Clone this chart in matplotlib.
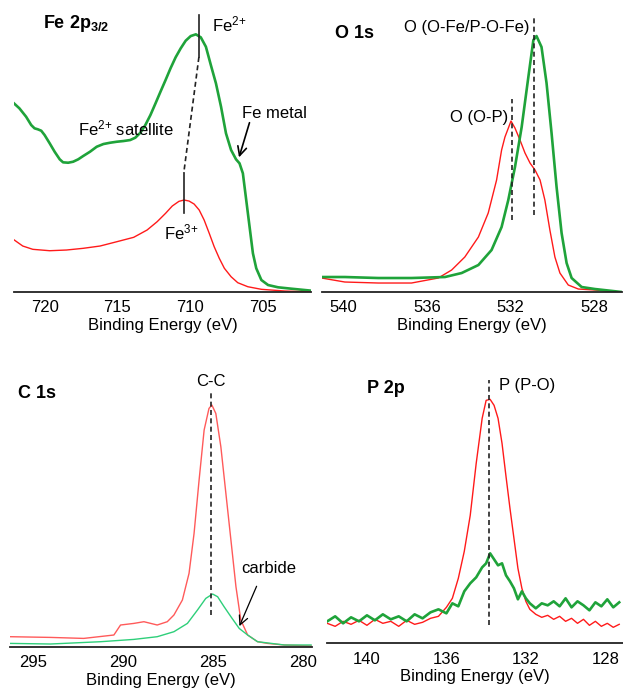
import matplotlib
matplotlib.use('Agg')
import matplotlib.pyplot as plt

plt.rcParams['font.family'] = ['Liberation Sans', 'DejaVu Sans']
plt.rcParams['mathtext.fontset'] = 'custom'
plt.rcParams['mathtext.rm'] = 'Liberation Sans'
plt.rcParams['mathtext.it'] = 'Liberation Sans:italic'
plt.rcParams['mathtext.bf'] = 'Liberation Sans:bold'

GREEN = '#1fa33a'
RED = '#ff1a1a'
LIGHT_GREEN = '#2ecf7a'
LIGHT_RED = '#ff5a5a'
FS = 12

# Fe 2p3/2
FE_TICKS = [720, 715, 710, 705]
FE_BE_GREEN = [722.15, 721.73, 721.27, 720.92, 720.69, 720.46, 720.23, 720.0, 719.65, 719.31,
               718.96, 718.73, 718.38, 718.04, 717.69, 717.35, 716.88, 716.42, 715.96, 715.50,
               715.04, 714.58, 714.12, 713.77, 713.42, 713.08, 712.73, 712.38, 712.04, 711.69,
               711.35, 711.0, 710.65, 710.31, 709.96, 709.61, 709.27, 708.92, 708.58, 708.23,
               707.88, 707.54, 707.19, 706.85, 706.61, 706.38, 706.15, 705.92, 705.69, 705.46,
               705.11, 704.65, 703.96, 703.04, 701.65]
FE_GREEN = [189.3, 183.7, 175.3, 167, 163.7, 162.7, 161.3, 157, 148.7, 140.3,
            132.7, 129.7, 129.3, 130.3, 132.7, 136, 140.3, 145.3, 148, 149.3,
            150.3, 151, 152, 154.3, 159.3, 167, 177, 188.7, 200.3, 212,
            223.7, 234.7, 243.7, 251.3, 256, 257.7, 254.7, 245.3, 227, 208.7,
            185.3, 158.7, 142, 132.7, 128.7, 118.7, 92, 65.3, 38.7, 23.7,
            12, 7, 4.7, 3.3, 1.3]
FE_BE_RED = [722.15, 721.50, 720.81, 719.65, 718.5, 717.35, 716.19, 715.04, 713.88, 712.96,
             712.27, 711.69, 711.23, 710.77, 710.42, 710.08, 709.73, 709.38, 709.04, 708.69,
             708.35, 708.0, 707.65, 707.19, 706.73, 706.04, 705.11, 703.5, 701.65]
FE_RED = [52.7, 46, 42.7, 41.3, 42, 43.7, 46, 50.3, 54.7, 62,
          70.3, 78.7, 86, 90.7, 92, 91, 88, 82, 72, 58.7,
          45.3, 33.7, 23.7, 15.3, 9.3, 5.3, 2.7, 1, 0]

# O 1s
O_TICKS = [540, 536, 532, 528]
O_BE_GREEN = [541.05, 539.94, 538.34, 536.75, 535.15, 534.35, 533.55, 532.92, 532.44, 532.12,
              531.8, 531.48, 531.16, 530.92, 530.77, 530.53, 530.29, 530.05, 529.81, 529.57,
              529.33, 529.09, 528.61, 527.98, 526.69]
O_GREEN = [15, 15, 14, 14, 15, 19, 27, 42, 65, 92,
           125, 165, 215, 252, 256, 245, 209, 159, 105, 59,
           29, 14, 5, 3, 0]
O_BE_RED = [541.05, 539.94, 538.34, 536.75, 535.47, 534.83, 534.2, 533.55, 533.08, 532.68,
            532.44, 532.28, 531.99, 531.8, 531.56, 531.32, 531.08, 530.84, 530.6, 530.37,
            530.13, 529.89, 529.65, 529.25, 528.77, 527.98, 526.69]
O_RED = [14, 10, 9, 9, 14, 22, 35, 55, 79, 112,
         142, 155, 171, 164, 152, 139, 129, 122, 112, 92,
         62, 35, 19, 7, 3, 2, 0]

# C 1s
C_TICKS = [295, 290, 285, 280]
C_BE_RED = [296.28, 294.05, 292.2, 290.52, 290.15, 289.41, 288.85, 288.11, 287.55, 287.18,
            286.71, 286.34, 286.06, 285.78, 285.5, 285.23, 285.07, 284.85, 284.57, 284.29,
            284.01, 283.73, 283.46, 283.08, 282.53, 281.97, 281.04, 279.55]
C_RED = [10, 9.3, 8.3, 11.7, 21.7, 23.3, 25, 21.7, 25, 31.7,
         46.7, 73.3, 113.3, 166.7, 216.7, 238.3, 241.7, 233.3, 200, 153.3,
         106.7, 60, 26.7, 11.7, 5, 3.3, 1.7, 0.7]
C_BE_GREEN = [296.28, 294.05, 291.26, 289.41, 288.11, 287.18, 286.43, 285.87, 285.41, 285.03,
              284.75, 284.39, 284.01, 283.55, 283.08, 282.53, 281.04, 279.55]
C_GREEN = [3.3, 2.7, 5, 7.3, 10, 15, 23.3, 36.7, 48.3, 52.7,
           50, 40, 30, 18.3, 11.7, 5, 1.7, 1.7]

# P 2p
P_TICKS = [140, 136, 132, 128]
P_BE = [142.0, 141.6, 141.2, 140.8, 140.4, 140.0, 139.6, 139.2, 138.8, 138.4,
        138.0, 137.6, 137.2, 136.8, 136.4, 136.0, 135.7, 135.4, 135.1, 134.8,
        134.5, 134.2, 134.0, 133.8, 133.6, 133.4, 133.2, 133.0, 132.8, 132.6,
        132.4, 132.2, 132.0, 131.8, 131.5, 131.2, 130.9, 130.6, 130.3, 130.0,
        129.7, 129.4, 129.1, 128.8, 128.5, 128.2, 127.9, 127.6, 127.3]
P_RED = [20, 17, 22, 19, 23, 18, 24, 20, 22, 17,
         23, 19, 21, 25, 27, 36, 45, 65, 92, 128,
         180, 225, 243, 244, 238, 225, 200, 167, 135, 105,
         75, 55, 42, 34, 29, 26, 28, 24, 27, 22,
         25, 20, 24, 18, 22, 17, 20, 16, 19]
P_GREEN = [22, 27, 20, 26, 22, 28, 23, 29, 24, 27,
           22, 29, 25, 31, 34, 30, 40, 37, 52, 60,
           66, 76, 80, 90, 84, 78, 80, 68, 62, 55,
           44, 52, 45, 40, 35, 40, 38, 42, 37, 45,
           36, 42, 38, 33, 41, 37, 44, 36, 41]


def style_axis(ax, xlim, ticks):
    ax.set_xlim(*xlim)
    ax.set_ylim(0, 287)
    ax.set_xticks(ticks)
    ax.set_yticks([])
    for side in ('top', 'right', 'left'):
        ax.spines[side].set_visible(False)
    ax.spines['bottom'].set_linewidth(1.3)
    ax.spines['bottom'].set_color('#222222')
    ax.tick_params(axis='x', length=0, pad=6, labelsize=FS)
    ax.set_xlabel('Binding Energy (eV)', fontsize=FS, labelpad=2)
    ax.patch.set_alpha(0)


def vline(ax, x, y0, y1, dashed=True):
    ax.plot([x, x], [y0, y1], color='#222222', lw=1.2,
            ls=(0, (3, 2)) if dashed else '-')


fig = plt.figure(figsize=(6.23, 6.91), dpi=100)

# Fe panel
ax = fig.add_axes([0.0225, 0.5774, 0.4767, 0.4153])
ax.plot(FE_BE_GREEN, FE_GREEN, color=GREEN, lw=1.9)
ax.plot(FE_BE_RED, FE_RED, color=RED, lw=1.0)
style_axis(ax, (722.1, 701.7), FE_TICKS)
vline(ax, 709.40, 235, 277, dashed=False)
ax.plot([709.40, 710.44], [235, 119], color='#222222', lw=1.2, ls=(0, (3, 2)))
vline(ax, 710.44, 79, 119, dashed=False)
ax.text(720.14, 269, r'$\mathbf{Fe\ 2p_{3/2}}$', fontsize=13, va='center')
ax.text(708.5, 268, 'Fe$^{2{+}}$', fontsize=FS, va='center')
ax.text(717.7, 164, 'Fe$^{2{+}}$ satellite', fontsize=FS, va='center')
ax.text(706.43, 179, 'Fe metal', fontsize=FS, va='center')
ax.text(711.83, 60, 'Fe$^{3{+}}$', fontsize=FS, va='center')
ax.annotate('', xy=(706.70, 132), xytext=(705.87, 172),
            arrowprops=dict(arrowstyle='->', lw=1.2, color='black', mutation_scale=16))

# O panel
ax = fig.add_axes([0.5169, 0.5774, 0.4815, 0.4153])
ax.plot(O_BE_RED, O_RED, color=RED, lw=1.0)
ax.plot(O_BE_GREEN, O_GREEN, color=GREEN, lw=1.9)
style_axis(ax, (541.03, 526.68), O_TICKS)
vline(ax, 530.88, 77, 277)
vline(ax, 531.96, 72, 193)
ax.text(540.41, 259, 'O 1s', fontsize=13, fontweight='bold', va='center')
ax.text(531.11, 265, 'O (O-Fe/P-O-Fe)', fontsize=FS, va='center', ha='right')
ax.text(532.11, 175, 'O (O-P)', fontsize=FS, va='center', ha='right')

# C panel
ax = fig.add_axes([0.016, 0.0641, 0.4848, 0.4153])
ax.plot(C_BE_RED, C_RED, color=LIGHT_RED, lw=1.0)
ax.plot(C_BE_GREEN, C_GREEN, color=LIGHT_GREEN, lw=1.0)
style_axis(ax, (296.3, 279.5), C_TICKS)
vline(ax, 285.12, 32, 255)
ax.text(295.84, 253, 'C 1s', fontsize=13, fontweight='bold', va='center')
ax.text(285.12, 265, 'C-C', fontsize=FS, va='center', ha='center')
ax.text(283.45, 78, 'carbide', fontsize=FS, va='center')
ax.annotate('', xy=(283.6, 18), xytext=(282.52, 63),
            arrowprops=dict(arrowstyle='->', lw=0.9, color='black', mutation_scale=16))

# P panel
ax = fig.add_axes([0.5249, 0.069, 0.4751, 0.4153])
ax.plot(P_BE, P_RED, color=RED, lw=1.0)
ax.plot(P_BE, P_GREEN, color=GREEN, lw=1.9)
style_axis(ax, (142.01, 127.11), P_TICKS)
vline(ax, 133.88, 18, 263)
ax.text(140.0, 255, 'P 2p', fontsize=13, fontweight='bold', va='center')
ax.text(133.37, 258, 'P (P-O)', fontsize=FS, va='center')

fig.savefig('out.png', dpi=100)
